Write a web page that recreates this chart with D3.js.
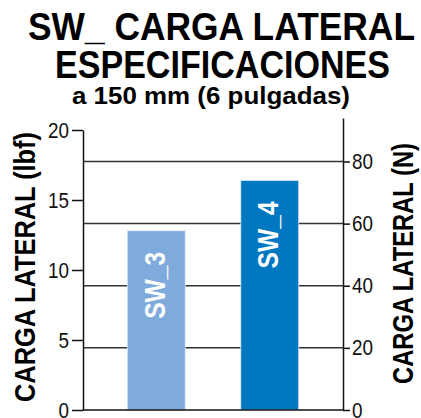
<!DOCTYPE html>
<html>
<head>
<meta charset="utf-8">
<script src="https://cdn.jsdelivr.net/npm/d3@7"></script>
<style>
body { margin: 0; background: #fff; }
svg { display: block; font-family: "Liberation Sans Narrow", "Liberation Sans", Arial, sans-serif; }
.tick text { font-size: 22px; fill: #111; }
</style>
</head>
<body>
<div id="drawing"></div>
<script>
var categories = ["SW_3", "SW_4"];
var valuesLbf = [12.8, 16.4];
var barColors = ["#7eabdb", "#0078c1"];
var lbfTicks = [0, 5, 10, 15, 20];
var newtonTicks = [0, 20, 40, 60, 80];
var titleLines = ["SW_ CARGA LATERAL", "ESPECIFICACIONES", "a 150 mm (6 pulgadas)"];

var W = 421, H = 418;

var svg = d3.select("#drawing")
.append("svg")
.attr("width", W)
.attr("height", H);

// title, three lines (squeezed, no narrow font here)
var titleSpec = [
  {size: 39, x: 221.5, y: 39.5, len: 387},
  {size: 39, x: 222.5, y: 77.5, len: 335},
  {size: 23.5, x: 211, y: 104, len: 278}
];
titleLines.forEach(function(t, i) {
  var s = titleSpec[i];
  svg.append("text")
  .attr("x", s.x)
  .attr("y", s.y)
  .attr("text-anchor", "middle")
  .attr("font-weight", "bold")
  .attr("font-size", s.size)
  .attr("textLength", s.len)
  .attr("lengthAdjust", "spacingAndGlyphs")
  .text(t);
});

var x = d3.scaleBand()
.domain(categories)
.range([83, 343])
.paddingInner(0.49)
.paddingOuter(0.39);

var y = d3.scaleLinear()
.domain([0, 20])
.range([410, 130]);

// newton axis, runs a bit higher than the lbf one
var yN = d3.scaleLinear()
.domain([0, 94])
.range([410, 118]);

// gridlines at the newton ticks
svg.append("g")
.selectAll("line")
.data(newtonTicks.slice(1))
.join("line")
.attr("x1", 83)
.attr("x2", 343)
.attr("y1", function(d) { return yN(d); })
.attr("y2", function(d) { return yN(d); })
.attr("stroke", "#333")
.attr("stroke-width", 1.5);

svg.append("g")
.selectAll("rect")
.data(valuesLbf)
.join("rect")
.attr("x", function(d, i) { return x(categories[i]); })
.attr("y", function(d) { return y(d); })
.attr("width", x.bandwidth())
.attr("height", function(d) { return y(0) - y(d); })
.attr("fill", function(d, i) { return barColors[i]; })
.attr("stroke", "#dde9f6")
.attr("stroke-width", 0.8);

// bar names, white, rotated
svg.append("g")
.selectAll("text")
.data(valuesLbf)
.join("text")
.attr("transform", function(d, i) {
  return "translate(" + (x(categories[i]) + x.bandwidth() / 2 - 2) + "," + (y(d) + 21) + ") rotate(-90)";
})
.attr("dy", "0.36em")
.attr("text-anchor", "end")
.attr("fill", "#fff")
.attr("font-weight", "bold")
.attr("font-size", 29)
.attr("textLength", 67)
.attr("lengthAdjust", "spacingAndGlyphs")
.text(function(d, i) { return categories[i]; });

var left = svg.append("g")
.attr("transform", "translate(83,0)")
.call(d3.axisLeft(y).tickValues(lbfTicks).tickSize(11).tickSizeOuter(0).tickPadding(3));

var right = svg.append("g")
.attr("transform", "translate(343,0)")
.call(d3.axisRight(yN).tickValues(newtonTicks).tickSize(7).tickSizeOuter(0).tickPadding(2));

[left, right].forEach(function(a) {
  a.selectAll("path, line").attr("stroke", "#111").attr("stroke-width", 1.5);
  a.selectAll("text")
  .attr("font-family", null)
  .attr("font-size", null)
  .attr("textLength", function() { return this.textContent.length * 10.5; })
  .attr("lengthAdjust", "spacingAndGlyphs");
});

// bottom line
svg.append("line")
.attr("x1", 83)
.attr("x2", 343)
.attr("y1", y(0))
.attr("y2", y(0))
.attr("stroke", "#111")
.attr("stroke-width", 1.5);

svg.append("text")
.attr("transform", "translate(25,267) rotate(-90)")
.attr("dy", "0.36em")
.attr("text-anchor", "middle")
.attr("font-weight", "bold")
.attr("font-size", 29)
.attr("textLength", 270)
.attr("lengthAdjust", "spacingAndGlyphs")
.text("CARGA LATERAL (lbf)");

svg.append("text")
.attr("transform", "translate(403,263.5) rotate(-90)")
.attr("dy", "0.36em")
.attr("text-anchor", "middle")
.attr("font-weight", "bold")
.attr("font-size", 29)
.attr("textLength", 241)
.attr("lengthAdjust", "spacingAndGlyphs")
.text("CARGA LATERAL (N)");
</script>
</body>
</html>
